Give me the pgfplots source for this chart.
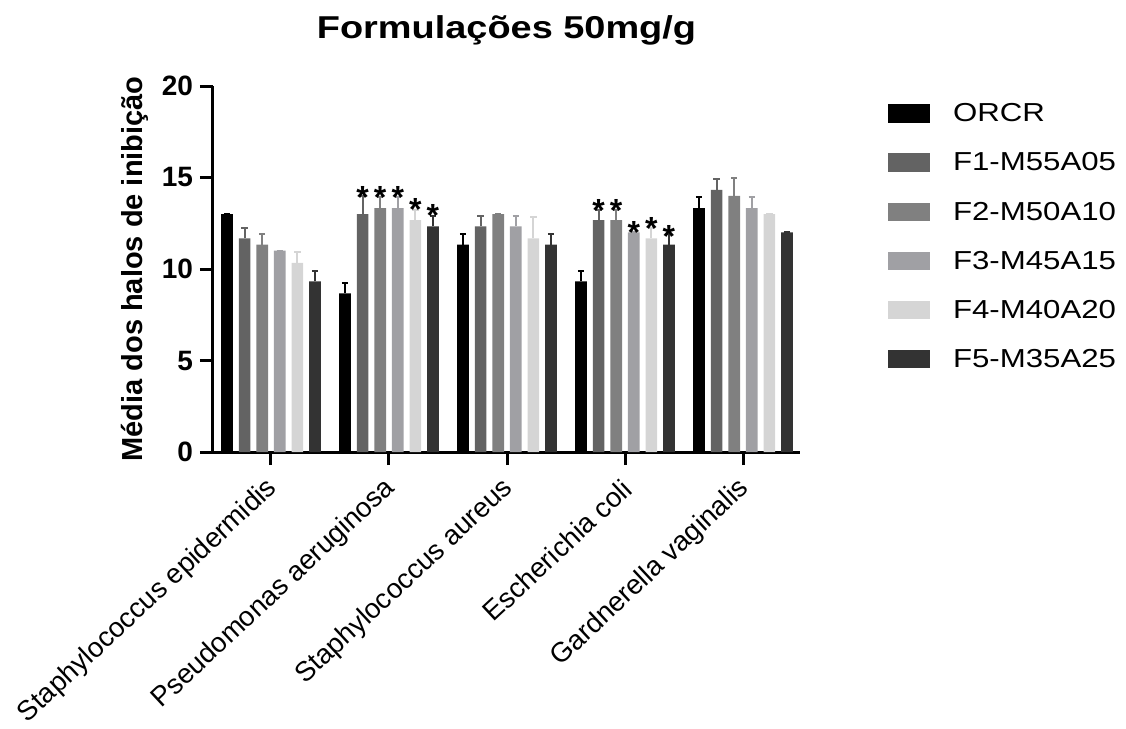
\documentclass[border=0pt]{standalone}
\usepackage{fontspec}
\setmainfont{Liberation Sans}
\newfontfamily\stretchfont[FakeStretch=1.2]{Liberation Sans}
\usepackage{pgfplots}
\pgfplotsset{compat=1.18}

\definecolor{cORCR}{RGB}{0,0,0}
\definecolor{cF1}{RGB}{99,99,99}
\definecolor{cF2}{RGB}{128,128,128}
\definecolor{cF3}{RGB}{160,160,164}
\definecolor{cF4}{RGB}{213,213,213}
\definecolor{cF5}{RGB}{51,51,51}

\pgfplotsset{
  mybar/.style={ybar, bar width=0.099, bar shift=0, draw=none, fill=#1,
    legend image code/.code={\fill[##1] (0pt,-5.3pt) rectangle (21pt,4pt);},
    error bars/y dir=plus, error bars/y explicit,
    error bars/error bar style={line width=1pt, draw=#1},
    error bars/error mark options={rotate=90, mark size=1.6pt, line width=1pt, draw=#1}},
}

\begin{document}
\begin{tikzpicture}
\path[use as bounding box] (-106.5pt,-138.5pt) rectangle (456.5pt,226pt);
\begin{axis}[
  at={(0,0)}, anchor=south west,
  width=293.5pt, height=183pt, scale only axis,
  xmin=-0.4915, xmax=4.483, ymin=0, ymax=20,
  axis x line*=bottom, axis y line*=left,
  axis line style={line width=1.5pt},
  major tick style={line width=1.5pt, black},
  tick align=outside, major tick length=6.5pt,
  xtick={0,1,2,3,4},
  xticklabels={Staphylococcus epidermidis, Pseudomonas aeruginosa, Staphylococcus aureus, Escherichia coli, Gardnerella vaginalis},
  xticklabel style={yshift=-9pt, xshift=2pt, rotate=43, anchor=east, font=\fontsize{13.8}{16}\selectfont, inner sep=1pt},
  ytick={0,5,10,15,20},
  yticklabel style={font=\bfseries\fontsize{14}{16}\selectfont},
  /pgf/number format/assume math mode=true,
  ylabel={Média dos halos de inibição},
  ylabel style={font=\bfseries\fontsize{14.5}{17}\selectfont, at={(axis description cs:-0.1193,0.5)}, anchor=base},
  title={Formulações 50mg/g},
  title style={font=\stretchfont\bfseries\fontsize{15.8}{18}\selectfont, at={(axis description cs:0.5,1)}, anchor=base, yshift=18pt},
  legend style={at={(axis description cs:1.15,0.954)}, anchor=north west, draw=none, fill=none, inner sep=0pt, outer sep=0pt, row sep=14.5pt, column sep=11.5pt, font=\stretchfont\fontsize{13}{15}\selectfont, nodes={inner sep=0pt, text height=9.5pt, text depth=0pt}},
  legend cell align=left,
  clip=false,
]
\addplot[mybar=cORCR] coordinates {(-0.3725,13) +- (0,0) (0.6275,8.67) +- (0,0.58) (1.6275,11.33) +- (0,0.58) (2.6275,9.33) +- (0,0.58) (3.6275,13.33) +- (0,0.58)};
\addlegendentry{ORCR}
\addplot[mybar=cF1] coordinates {(-0.2235,11.67) +- (0,0.58) (0.7765,13.0) +- (0,1.0) (1.7765,12.33) +- (0,0.58) (2.7765,12.67) +- (0,0.58) (3.7765,14.33) +- (0,0.58)};
\addlegendentry{F1-M55A05}
\addplot[mybar=cF2] coordinates {(-0.0745,11.33) +- (0,0.58) (0.9255,13.33) +- (0,0.58) (1.9255,13.0) +- (0,0) (2.9255,12.67) +- (0,0.58) (3.9255,14.0) +- (0,1.0)};
\addlegendentry{F2-M50A10}
\addplot[mybar=cF3] coordinates {(0.0745,11.0) +- (0,0) (1.0745,13.33) +- (0,0.58) (2.0745,12.33) +- (0,0.58) (3.0745,12.0) +- (0,0) (4.0745,13.33) +- (0,0.58)};
\addlegendentry{F3-M45A15}
\addplot[mybar=cF4] coordinates {(0.2235,10.33) +- (0,0.58) (1.2235,12.67) +- (0,0.58) (2.2235,11.67) +- (0,1.15) (3.2235,11.67) +- (0,0.58) (4.2235,13.0) +- (0,0)};
\addlegendentry{F4-M40A20}
\addplot[mybar=cF5] coordinates {(0.3725,9.33) +- (0,0.58) (1.3725,12.33) +- (0,0.58) (2.3725,11.33) +- (0,0.58) (3.3725,11.33) +- (0,0.58) (4.3725,12.0) +- (0,0)};
\addlegendentry{F5-M35A25}
\addplot[only marks, color=black, mark=text, text mark={*}, text mark as node=true,
  text mark style={font=\bfseries\fontsize{16}{16}\selectfont, anchor=base, yshift=-9.1pt, inner sep=0pt}, forget plot]
  coordinates {(0.7765,14.32) (0.9255,14.32) (1.0745,14.32) (1.2235,13.62) (1.3725,13.32)
               (2.7765,13.59) (2.9255,13.59) (3.0745,12.37) (3.2235,12.59) (3.3725,12.17)};
\end{axis}
\end{tikzpicture}
\end{document}
